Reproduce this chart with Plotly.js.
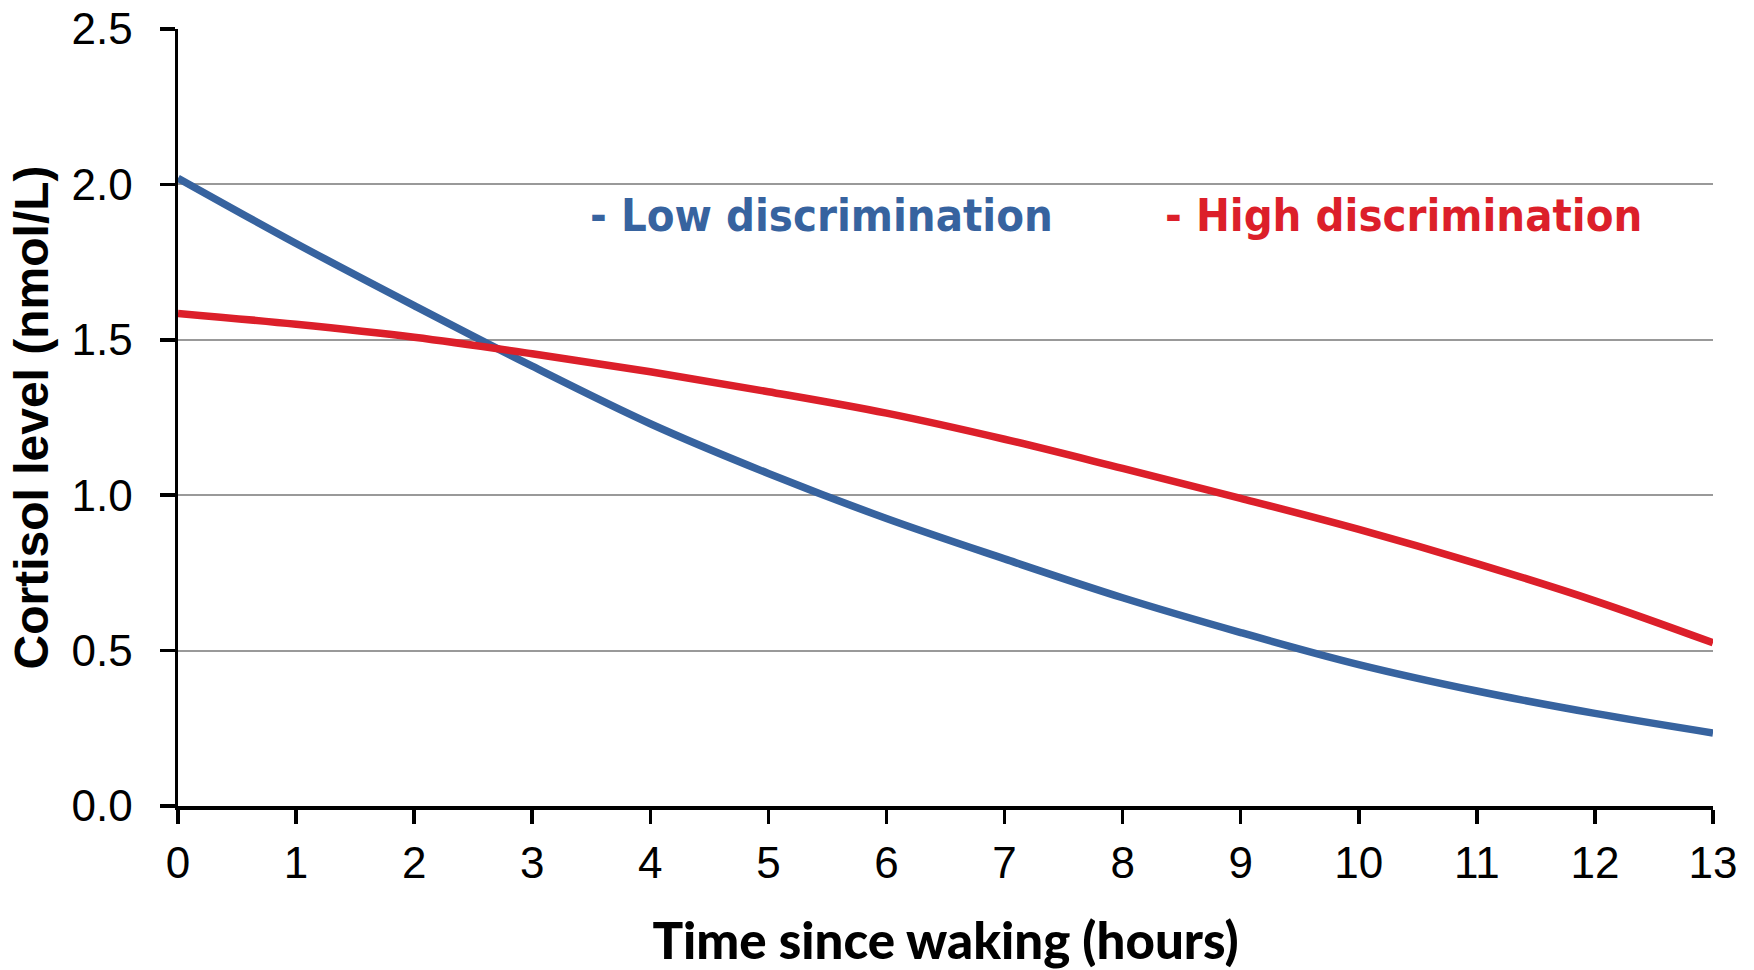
<!DOCTYPE html>
<html>
<head>
<meta charset="utf-8">
<script src="https://cdn.plot.ly/plotly-3.0.1.min.js"></script>
<style>html,body{margin:0;padding:0;background:#fff;}#chart{width:1754px;height:970px;}</style>
</head>
<body>
<div id="chart"></div>
<script>
const hours = [0,1,2,3,4,5,6,7,8,9,10,11,12,13];
const lowDiscrimination = [2.02,1.81,1.61,1.415,1.23,1.07,0.925,0.795,0.67,0.558,0.455,0.37,0.298,0.235];
const highDiscrimination = [1.585,1.55,1.508,1.455,1.397,1.333,1.264,1.18,1.086,0.99,0.89,0.78,0.66,0.525];
const yTickVals = [0,0.5,1,1.5,2,2.5];
const yTickText = ["0.0","0.5","1.0","1.5","2.0","2.5"];
const seriesNames = ["- Low discrimination","- High discrimination"];
const seriesColors = ["#37639F","#DC1F2A"];

const traces = [
  {x: hours, y: lowDiscrimination, mode: "lines", line: {color: seriesColors[0], width: 7.5, shape: "spline"}, name: seriesNames[0]},
  {x: hours, y: highDiscrimination, mode: "lines", line: {color: seriesColors[1], width: 7.5, shape: "spline"}, name: seriesNames[1]}
];

const legendFont = {family: "Liberation Sans Narrow, Arial Narrow, DejaVu Sans Condensed, sans-serif", size: 45, weight: 700};

const layout = {
  width: 1754, height: 970,
  margin: {l: 178, r: 41, t: 29, b: 164},
  paper_bgcolor: "#fff", plot_bgcolor: "#fff",
  showlegend: false,
  font: {family: "Liberation Sans, Arial, sans-serif", color: "#000"},
  xaxis: {
    range: [0, 13], tickmode: "array", tickvals: hours, ticktext: hours.map(String),
    showgrid: false, zeroline: false,
    showline: true, linecolor: "#000", linewidth: 3.5,
    ticks: "outside", ticklen: 14, tickwidth: 3.5, tickcolor: "#000",
    tickfont: {size: 44, color: "#000"}, ticklabelstandoff: 2,
    title: {text: "Time since waking (hours)", font: {family: "Lato, Open Sans, sans-serif", size: 51, weight: 900, color: "#000"}, standoff: 44},
    automargin: false
  },
  yaxis: {
    range: [0, 2.5], tickmode: "array", tickvals: yTickVals, ticktext: yTickText,
    showgrid: true, gridcolor: "#999", gridwidth: 2, zeroline: false,
    showline: true, linecolor: "#000", linewidth: 3.5,
    ticks: "outside", ticklen: 15, tickwidth: 3.5, tickcolor: "#000",
    tickfont: {size: 44, color: "#000"}, ticklabelstandoff: 18,
    title: {text: "Cortisol level (nmol/L)", font: {family: "Liberation Sans, Arial, sans-serif", size: 48, weight: 700, color: "#000"}, standoff: 8},
    automargin: false
  },
  annotations: [
    {x: 5.45, y: 1.9, xref: "x", yref: "y", text: seriesNames[0], showarrow: false, font: Object.assign({}, legendFont, {color: seriesColors[0]})},
    {x: 10.38, y: 1.9, xref: "x", yref: "y", text: seriesNames[1], showarrow: false, font: Object.assign({}, legendFont, {color: seriesColors[1]})}
  ]
};

Plotly.newPlot("chart", traces, layout, {displayModeBar: false, staticPlot: true});
</script>
</body>
</html>
